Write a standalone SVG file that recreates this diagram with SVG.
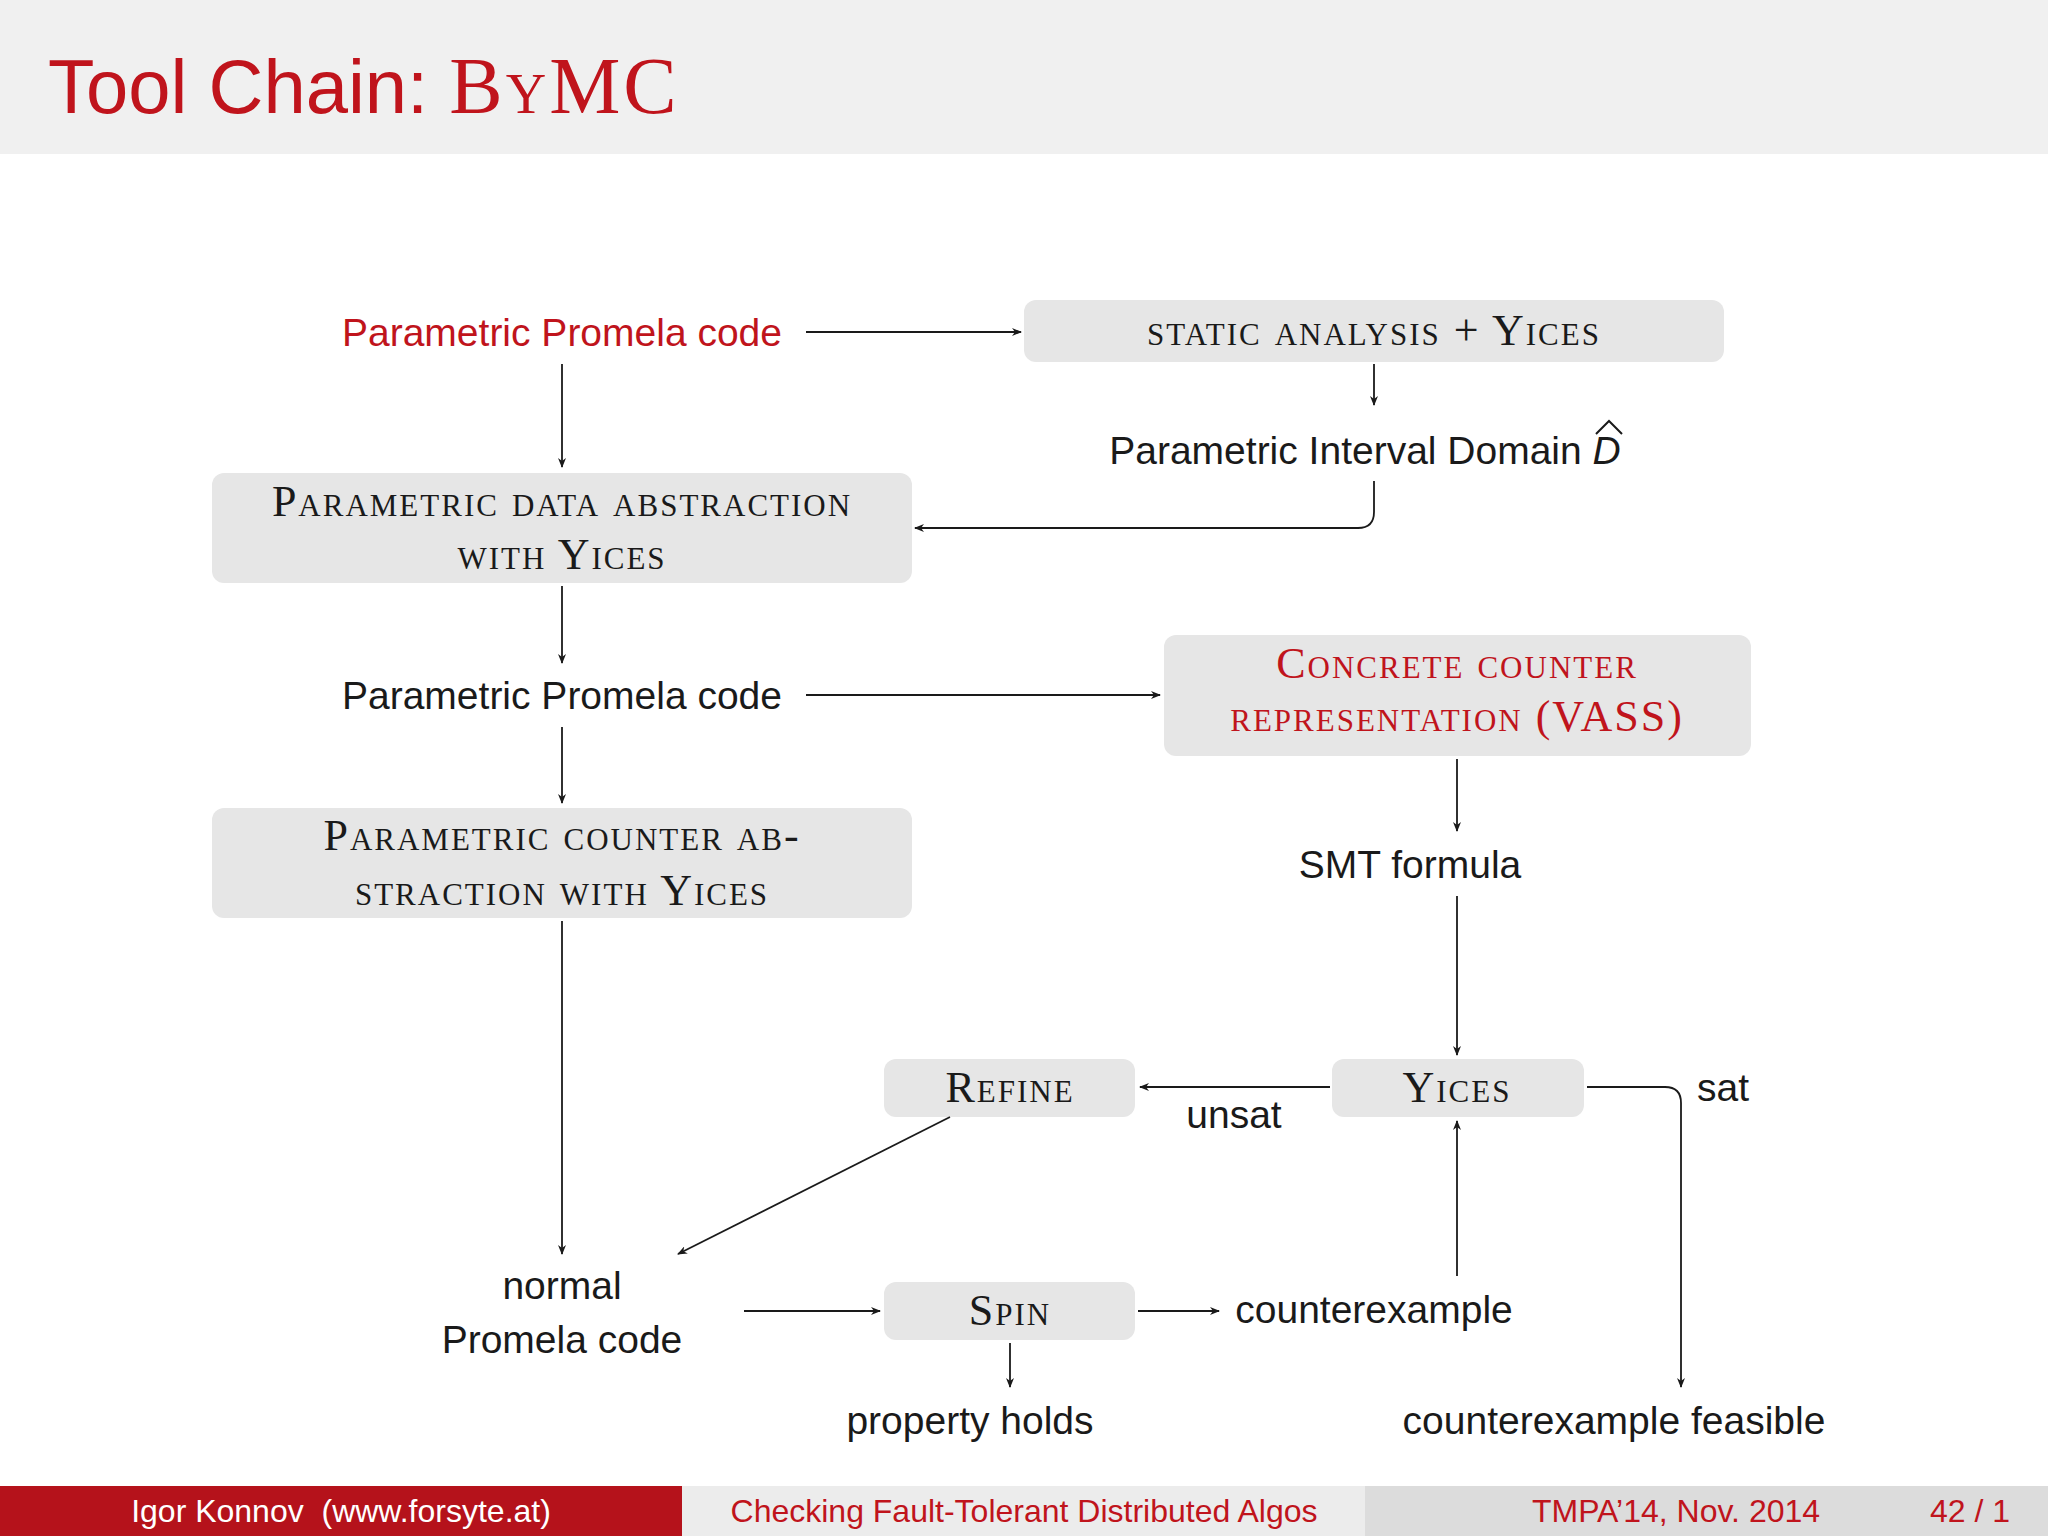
<svg xmlns="http://www.w3.org/2000/svg" width="2048" height="1536" viewBox="0 0 2048 1536">
<style>
.s{font-family:"Liberation Sans","DejaVu Sans",sans-serif;font-size:39px;fill:#1a1a1a;text-anchor:middle}
.sc{font-family:"Liberation Serif","DejaVu Serif",serif;font-size:44px;font-variant:small-caps;letter-spacing:2px;fill:#1a1a1a;text-anchor:middle}
.red{fill:#c0141c}
.box{fill:#e6e6e6}
.c{fill:none;stroke:#1a1a1a;stroke-width:1.8;marker-end:url(#a)}
</style>
<defs><marker id="a" markerWidth="10" markerHeight="8" refX="9" refY="4" orient="auto" markerUnits="userSpaceOnUse"><path d="M0,0 L10,4 L0,8 L3,4 z" fill="#1a1a1a"/></marker></defs>
<rect width="2048" height="1536" fill="#fff"/>
<rect width="2048" height="154" fill="#f0f0f0"/>
<text x="48" y="113" font-family="Liberation Sans,sans-serif" font-size="76" fill="#c0141c">Tool Chain: <tspan font-family="Liberation Serif,serif" font-variant="small-caps" letter-spacing="3" font-size="80">ByMC</tspan></text>
<g id="n1"><text class="s red" x="562" y="346">Parametric Promela code</text></g>
<g id="n2"><rect class="box" x="1024" y="300" width="700" height="62" rx="12"/><text class="sc" x="1374" y="345">static analysis + Yices</text></g>
<g id="n3"><text class="s" x="1365" y="464">Parametric Interval Domain <tspan font-style="italic">D</tspan></text><path d="M1596,434 L1609,421 L1622,434" fill="none" stroke="#1a1a1a" stroke-width="2"/></g>
<g id="n4"><rect class="box" x="212" y="473" width="700" height="110" rx="12"/><text class="sc" x="562" y="516">Parametric data abstraction</text><text class="sc" x="562" y="569">with Yices</text></g>
<g id="n5"><text class="s" x="562" y="709">Parametric Promela code</text></g>
<g id="n6"><rect class="box" x="1164" y="635" width="587" height="121" rx="12"/><text class="sc red" x="1457" y="678">Concrete counter</text><text class="sc red" x="1457" y="731">representation (VASS)</text></g>
<g id="n7"><rect class="box" x="212" y="808" width="700" height="110" rx="12"/><text class="sc" x="562" y="850">Parametric counter ab-</text><text class="sc" x="562" y="905">straction with Yices</text></g>
<g id="n8"><text class="s" x="1410" y="878">SMT formula</text></g>
<g id="n9"><rect class="box" x="884" y="1059" width="251" height="58" rx="12"/><text class="sc" x="1010" y="1102">Refine</text></g>
<g id="n10"><rect class="box" x="1332" y="1059" width="252" height="58" rx="12"/><text class="sc" x="1457" y="1102">Yices</text></g>
<g id="n11"><text class="s" x="562" y="1299">normal</text><text class="s" x="562" y="1353">Promela code</text></g>
<g id="n12"><rect class="box" x="884" y="1282" width="251" height="58" rx="12"/><text class="sc" x="1010" y="1325">Spin</text></g>
<g id="n13"><text class="s" x="1374" y="1323">counterexample</text></g>
<g id="n14"><text class="s" x="970" y="1434">property holds</text></g>
<g id="n15"><text class="s" x="1614" y="1434">counterexample feasible</text></g>
<g id="connectors">
<path class="c" d="M806,332 H1021"/>
<path class="c" d="M1374,364 V405"/>
<path class="c" d="M562,364 V467"/>
<path class="c" d="M1374,481 V512 Q1374,528 1358,528 H915"/>
<path class="c" d="M562,586 V663"/>
<path class="c" d="M806,695 H1160"/>
<path class="c" d="M562,727 V803"/>
<path class="c" d="M1457,759 V831"/>
<path class="c" d="M1457,896 V1055"/>
<path class="c" d="M1330,1087 H1140"/>
<path class="c" d="M562,921 V1254"/>
<path class="c" d="M950,1117 L678,1254"/>
<path class="c" d="M744,1311 H880"/>
<path class="c" d="M1138,1311 H1219"/>
<path class="c" d="M1457,1276 V1121"/>
<path class="c" d="M1010,1343 V1387"/>
<path class="c" d="M1587,1087 H1665 Q1681,1087 1681,1103 V1387"/>
<text class="s" x="1234" y="1128">unsat</text>
<text class="s" x="1723" y="1101">sat</text>
</g>
<rect x="0" y="1486" width="682" height="50" fill="#b5121b"/>
<rect x="682" y="1486" width="683" height="50" fill="#ececec"/>
<rect x="1365" y="1486" width="683" height="50" fill="#dcdcdc"/>
<text x="341" y="1522" font-family="Liberation Sans,sans-serif" font-size="32" fill="#fff" text-anchor="middle" xml:space="preserve">Igor Konnov  (www.forsyte.at)</text>
<text x="1024" y="1522" font-family="Liberation Sans,sans-serif" font-size="32" fill="#c0141c" text-anchor="middle">Checking Fault-Tolerant Distributed Algos</text>
<text x="1676" y="1522" font-family="Liberation Sans,sans-serif" font-size="32" fill="#c0141c" text-anchor="middle">TMPA’14, Nov. 2014</text>
<text x="1970" y="1522" font-family="Liberation Sans,sans-serif" font-size="32" fill="#c0141c" text-anchor="middle">42 / 1</text>
</svg>
